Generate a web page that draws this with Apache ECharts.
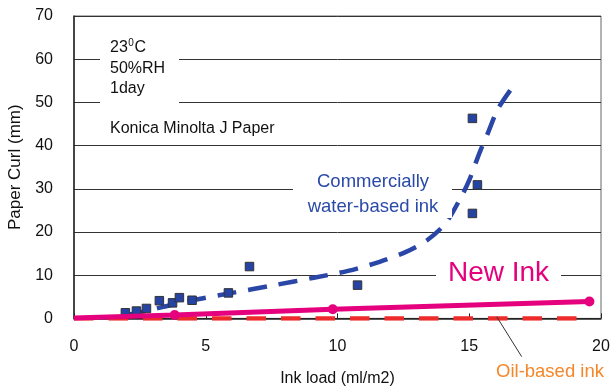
<!DOCTYPE html>
<html><head><meta charset="utf-8">
<script src="https://cdn.jsdelivr.net/npm/echarts@6/dist/echarts.min.js"></script>
<style>html,body{margin:0;padding:0;background:#fff}#c{width:610px;height:389px}</style>
</head><body><div id="c"></div>
<script>
// measured points (x = ink load ml/m2, y = curl mm)
const waterX = [1.95, 2.37, 2.75, 3.24, 3.74, 4.0, 4.48, 5.86, 6.66, 10.76, 15.12, 15.31, 15.12];
const waterY = [1.3, 1.7, 2.3, 4.1, 3.6, 4.8, 4.2, 5.9, 12.0, 7.7, 46.3, 30.9, 24.3];
const trendX = [2.0, 2.8, 3.6, 4.5, 5.9, 7.6, 9.1, 10.4, 11.6, 12.6, 13.4, 14.1, 14.7, 15.0, 15.4, 15.7, 16.1, 16.7];
const trendY = [0.8, 1.8, 3.0, 4.2, 5.8, 7.7, 9.4, 11.0, 13.1, 15.4, 18.1, 22.0, 28.2, 32.0, 38.5, 42.8, 48.6, 54.0];
const newX = [0, 3.82, 9.82, 19.56];
const newY = [0.1, 0.8, 2.1, 3.9];
const oilX = [0, 19.1];
const oilY = [0, 0];
const xTicks = [0, 5, 10, 15, 20];
const yTicks = [0, 10, 20, 30, 40, 50, 60, 70];

const zip = (a, b) => a.map((v, i) => [v, b[i]]);
const FONT = 'Liberation Sans, Arial, sans-serif';
const chart = echarts.init(document.getElementById('c'), null, {renderer: 'canvas'});

chart.setOption({
  animation: false,
  backgroundColor: '#fff',
  grid: {left: 74, right: 9, top: 16, bottom: 70.6, show: true, borderColor: '#666', borderWidth: 1,
         containLabel: false, outerBoundsMode: 'none'},
  xAxis: {
    type: 'value', min: xTicks[0], max: xTicks[xTicks.length - 1], interval: 5,
    name: 'Ink load (ml/m2)', nameLocation: 'middle', nameGap: 52,
    nameTextStyle: {fontFamily: FONT, fontSize: 16, color: '#111'},
    axisLine: {show: true, lineStyle: {color: '#222', width: 1.5}},
    axisTick: {show: true, inside: true, length: 5, lineStyle: {color: '#222'}},
    axisLabel: {fontFamily: FONT, fontSize: 16, color: '#111', margin: 20},
    splitLine: {show: false}
  },
  yAxis: {
    type: 'value', min: yTicks[0], max: yTicks[yTicks.length - 1], interval: 10,
    name: 'Paper Curl (mm)', nameLocation: 'middle', nameGap: 49.5, nameRotate: 90,
    nameTextStyle: {fontFamily: FONT, fontSize: 17, color: '#111'},
    axisLine: {show: true, lineStyle: {color: '#222', width: 1.5}},
    axisTick: {show: false},
    axisLabel: {fontFamily: FONT, fontSize: 16, color: '#111', margin: 21},
    splitLine: {show: true, lineStyle: {color: '#333', width: 1}}
  },
  series: [
    {
      type: 'line', data: zip(oilX, oilY), showSymbol: false, z: 2,
      lineStyle: {color: '#ee2b2b', width: 4.5, type: [19.5, 15]}
    },
    {
      type: 'line', data: zip(trendX, trendY), showSymbol: false, smooth: 0.3, z: 3,
      lineStyle: {color: '#2a46a6', width: 4.5, type: [19, 12]}
    },
    {
      type: 'scatter', data: zip(waterX, waterY), symbol: 'rect', symbolSize: 8.5, z: 4,
      itemStyle: {color: '#2443a3', borderColor: '#333', borderWidth: 1, opacity: 1}
    },
    {
      type: 'line', data: zip(newX, newY).map((p, i) => i === 0 ? {value: p, symbol: 'none'} : p),
      symbol: 'circle', symbolSize: 10, showSymbol: true, z: 5,
      lineStyle: {color: '#e5007d', width: 5},
      itemStyle: {color: '#e5007d'}
    }
  ],
  graphic: [
    {type: 'rect', shape: {x: 100, y: 33, width: 79, height: 76}, style: {fill: '#fff'}, z: 10},
    {type: 'text', x: 110, y: 48, style: {text: '23', font: '16px ' + FONT, fill: '#111', textVerticalAlign: 'middle'}, z: 11},
    {type: 'text', x: 128.3, y: 43, style: {text: '0', font: '10px ' + FONT, fill: '#111', textVerticalAlign: 'middle'}, z: 11},
    {type: 'text', x: 134.5, y: 48, style: {text: 'C', font: '16px ' + FONT, fill: '#111', textVerticalAlign: 'middle'}, z: 11},
    {type: 'text', x: 110, y: 69, style: {text: '50%RH', font: '16px ' + FONT, fill: '#111', textVerticalAlign: 'middle'}, z: 11},
    {type: 'text', x: 110, y: 89, style: {text: '1day', font: '16px ' + FONT, fill: '#111', textVerticalAlign: 'middle'}, z: 11},
    {type: 'text', x: 110, y: 128.5, style: {text: 'Konica Minolta J Paper', font: '16px ' + FONT, fill: '#111', textVerticalAlign: 'middle'}, z: 11},
    {type: 'rect', shape: {x: 293, y: 168, width: 159, height: 50}, style: {fill: '#fff'}, z: 10},
    {type: 'text', x: 373, y: 182, style: {text: 'Commercially', font: '18.5px ' + FONT, fill: '#2a4aa8', textAlign: 'center', textVerticalAlign: 'middle'}, z: 11},
    {type: 'text', x: 373, y: 206.5, style: {text: 'water-based ink', font: '18.5px ' + FONT, fill: '#2a4aa8', textAlign: 'center', textVerticalAlign: 'middle'}, z: 11},
    {type: 'rect', shape: {x: 436, y: 258, width: 125, height: 30}, style: {fill: '#fff'}, z: 10},
    {type: 'text', x: 498.5, y: 273.5, style: {text: 'New Ink', font: '28px ' + FONT, fill: '#e5007d', textAlign: 'center', textVerticalAlign: 'middle'}, z: 11},
    {type: 'line', shape: {x1: 496.7, y1: 316.7, x2: 521.7, y2: 356.7}, style: {stroke: '#333', lineWidth: 1}, z: 11},
    {type: 'text', x: 550, y: 372, style: {text: 'Oil-based ink', font: '18.5px ' + FONT, fill: '#f5872a', textAlign: 'center', textVerticalAlign: 'middle'}, z: 11}
  ]
});
</script></body></html>
